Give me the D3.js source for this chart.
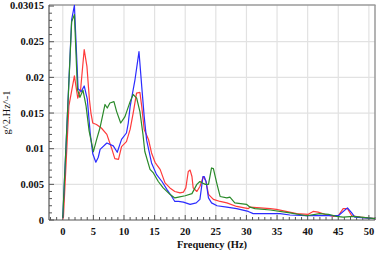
<!DOCTYPE html>
<html><head><meta charset="utf-8">
<script src="https://cdn.jsdelivr.net/npm/d3@7"></script>
<style>body{margin:0;background:#fff}svg{display:block}text{font-family:'Liberation Serif','Times New Roman',serif}</style>
</head><body><svg id="c" width="377" height="257"></svg>
<script>
const freqRed = [0.1,1.0,1.9,2.2,2.45,2.9,3.5,3.95,4.35,4.6,4.9,5.5,6.3,7.2,8.0,8.5,9.1,9.6,10.4,11.0,11.5,12.05,12.6,12.9,13.3,14.0,14.5,15.07,15.3,15.9,16.7,17.5,18.3,19.15,19.7,20.1,20.5,20.8,21.1,21.3,21.9,22.4,22.96,23.4,23.8,24.6,25.7,26.8,28.4,30.3,30.6,33.9,34.9,38.2,40.1,40.9,41.7,42.8,44.2,45.0,45.8,46.5,47.2,48.6,51.0];
const valRed = [0.0002,0.0160,0.0202,0.0185,0.0171,0.0182,0.0239,0.0215,0.0169,0.0150,0.0136,0.0134,0.0129,0.0120,0.0100,0.0086,0.0085,0.0103,0.0110,0.0127,0.0150,0.0178,0.0179,0.0159,0.0127,0.0113,0.0094,0.0081,0.0078,0.0071,0.0052,0.0045,0.0040,0.0038,0.0039,0.0045,0.0068,0.0070,0.0061,0.0045,0.0040,0.0047,0.0061,0.0054,0.0036,0.0029,0.0026,0.0024,0.0019,0.0016,0.0018,0.0016,0.0015,0.0009,0.0008,0.0012,0.0011,0.0008,0.0005,0.0006,0.0016,0.0016,0.0006,0.0004,0.0002];

const freqGreen = [0.0,1.45,1.9,2.4,2.8,3.3,3.8,4.3,5.0,5.5,6.07,6.9,7.27,7.7,8.36,8.8,9.46,10.16,11.0,11.5,12.07,12.6,13.1,13.4,14.25,14.8,15.6,16.4,17.5,18.3,18.9,20.0,21.1,21.9,22.4,22.8,23.3,23.8,24.3,24.6,25.2,25.7,26.8,27.3,28.1,30.0,30.6,31.4,33.9,37.1,39.8,42.0,43.4,44.7,45.8,47.5,51.0];
const valGreen = [0.0003,0.0278,0.0288,0.0183,0.0172,0.0182,0.0160,0.0125,0.0096,0.0112,0.0129,0.0162,0.0157,0.0164,0.0166,0.0152,0.0136,0.0145,0.0166,0.0176,0.0171,0.0152,0.0120,0.0096,0.0071,0.0066,0.0054,0.0045,0.0036,0.0031,0.0032,0.0034,0.0037,0.0050,0.0054,0.0052,0.0050,0.0050,0.0073,0.0072,0.0050,0.0033,0.0031,0.0032,0.0024,0.0022,0.0018,0.0016,0.0014,0.0010,0.0006,0.0009,0.0008,0.0005,0.0004,0.0005,0.0002];

const freqBlue = [0.0,1.45,1.9,2.5,3.0,3.5,4.0,4.5,4.9,5.4,5.8,6.1,7.2,8.25,8.9,9.6,10.4,10.7,11.0,11.8,12.45,12.9,13.3,13.7,14.5,15.3,16.2,17.0,17.8,18.3,18.9,19.7,20.8,21.8,22.4,22.9,23.1,23.4,23.8,24.3,25.2,26.8,28.4,30.3,31.1,33.9,35.5,37.1,39.8,42.6,45.0,46.5,47.2,47.7,51.0];
const valBlue = [0.0003,0.0281,0.0301,0.0184,0.0180,0.0188,0.0170,0.0120,0.0093,0.0081,0.0088,0.0099,0.0108,0.0104,0.0095,0.0113,0.0122,0.0136,0.0159,0.0197,0.0236,0.0187,0.0145,0.0112,0.0080,0.0064,0.0054,0.0043,0.0033,0.0026,0.0026,0.0025,0.0022,0.0024,0.0029,0.0061,0.0061,0.0054,0.0031,0.0024,0.0020,0.0018,0.0016,0.0012,0.0009,0.0009,0.0009,0.0007,0.0006,0.0006,0.0006,0.0017,0.0010,0.0004,0.0002];

const xTicks = [0,5,10,15,20,25,30,35,40,45,50];
const yTicks = [0,0.005,0.01,0.015,0.02,0.025,0.03015];
const yTickLabels = ["0","0.005","0.01","0.015","0.02","0.025","0.03015"];
const xTitle = "Frequency (Hz)";
const yTitle = "g^2.Hz^-1";

const svg = d3.select("#c");
const L = 49, R = 375, T = 5, B = 220;
const x = d3.scaleLinear().domain([-2.25, 51.0]).range([L, R]);
const y = d3.scaleLinear().domain([0, 0.03015]).range([B, T]);

// grid
const grid = svg.append("g");
grid.selectAll(".vg").data(xTicks).join("line")
  .attr("x1", d => x(d)).attr("x2", d => x(d)).attr("y1", T).attr("y2", B)
  .attr("stroke", "#e2e2e2").attr("stroke-width", 1.2);
grid.selectAll(".hg").data(yTicks.slice(1, -1)).join("line")
  .attr("x1", L).attr("x2", R).attr("y1", d => y(d)).attr("y2", d => y(d))
  .attr("stroke", "#e2e2e2").attr("stroke-width", 1.2);

// frame top & right
svg.append("line").attr("x1", L).attr("x2", R + 0.5).attr("y1", T).attr("y2", T).attr("stroke", "#9a9a9a").attr("stroke-width", 1.5);
svg.append("line").attr("x1", R).attr("x2", R).attr("y1", T).attr("y2", B).attr("stroke", "#9a9a9a").attr("stroke-width", 1.5);

// axes with inward ticks
const xMinor = d3.range(-2, 52, 1);
const xAx = svg.append("g").attr("transform", `translate(0,${B})`);
xAx.selectAll("line.t").data(xMinor).join("line")
  .attr("x1", d => x(d)).attr("x2", d => x(d)).attr("y1", 0)
  .attr("y2", d => d % 5 === 0 ? -5 : -3).attr("stroke", "#555").attr("stroke-width", 1);
xAx.append("line").attr("x1", L).attr("x2", R).attr("y1", 0).attr("y2", 0).attr("stroke", "#555").attr("stroke-width", 1.2);
xAx.selectAll("text").data(xTicks).join("text")
  .attr("x", d => x(d)).attr("y", 15).attr("text-anchor", "middle")
  .attr("font-weight", "bold").attr("font-size", 10.5)
  .attr("fill", "#111").text(d => d);

const yMinor = d3.range(0, 0.0301, 0.001);
const yAx = svg.append("g").attr("transform", `translate(${L},0)`);
yAx.selectAll("line.t").data(yMinor).join("line")
  .attr("y1", d => y(d)).attr("y2", d => y(d)).attr("x1", 0)
  .attr("x2", (d, i) => i % 5 === 0 ? 5 : 3).attr("stroke", "#555").attr("stroke-width", 1);
yAx.append("line").attr("x1", 0).attr("x2", 0).attr("y1", T).attr("y2", B).attr("stroke", "#555").attr("stroke-width", 1.2);
yAx.selectAll("text").data(yTicks).join("text")
  .attr("x", -5).attr("y", d => y(d) + 3.5).attr("text-anchor", "end")
  .attr("font-weight", "bold").attr("font-size", 10.5)
  .attr("fill", "#111").text((d, i) => yTickLabels[i]);

svg.append("text").attr("x", (L + R) / 2).attr("y", 248).attr("text-anchor", "middle")
  .attr("font-weight", "bold").attr("font-size", 10.5)
  .attr("fill", "#111").text(xTitle);
svg.append("text").attr("transform", `translate(10,${(T + B) / 2}) rotate(-90)`).attr("text-anchor", "middle")
  .attr("font-size", 10.5)
  .attr("fill", "#111").text(yTitle);

// lines
const line = d3.line().x(d => x(d[0])).y(d => y(d[1]));
const series = [
  {f: freqRed, v: valRed, c: "#ff3b3b"},
  {f: freqBlue, v: valBlue, c: "#2b2bff"},
  {f: freqGreen, v: valGreen, c: "#2a8a2a"}
];
svg.append("g").selectAll("path").data(series).join("path")
  .attr("d", s => line(s.f.map((f, i) => [f, s.v[i]])))
  .attr("fill", "none").attr("stroke", s => s.c).attr("stroke-width", 1.2)
  .attr("stroke-linejoin", "round");
</script></body></html>
